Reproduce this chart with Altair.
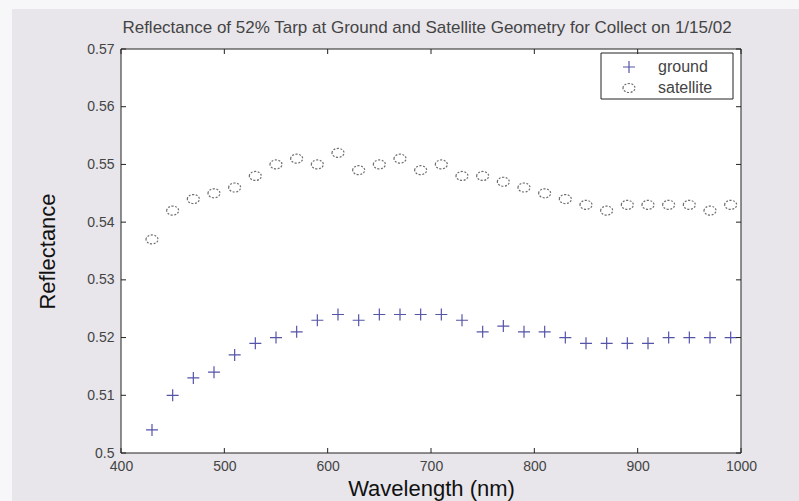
import altair as alt
import pandas as pd

# ---- data ----
wavelength = [430, 450, 470, 490, 510, 530, 550, 570, 590, 610, 630, 650, 670, 690, 710,
              730, 750, 770, 790, 810, 830, 850, 870, 890, 910, 930, 950, 970, 990]
ground = [0.504, 0.510, 0.513, 0.514, 0.517, 0.519, 0.520, 0.521, 0.523, 0.524, 0.523, 0.524,
          0.524, 0.524, 0.524, 0.523, 0.521, 0.522, 0.521, 0.521, 0.520, 0.519, 0.519, 0.519,
          0.519, 0.520, 0.520, 0.520, 0.520]
satellite = [0.537, 0.542, 0.544, 0.545, 0.546, 0.548, 0.550, 0.551, 0.550, 0.552, 0.549, 0.550,
             0.551, 0.549, 0.550, 0.548, 0.548, 0.547, 0.546, 0.545, 0.544, 0.543, 0.542, 0.543,
             0.543, 0.543, 0.543, 0.542, 0.543]
series_names = ["ground", "satellite"]
x_ticks = [400, 500, 600, 700, 800, 900, 1000]
y_ticks = [0.50, 0.51, 0.52, 0.53, 0.54, 0.55, 0.56, 0.57]
title_text = "Reflectance of 52% Tarp at Ground and Satellite Geometry for Collect on 1/15/02"

df = pd.DataFrame({
    "wavelength": wavelength + wavelength,
    "reflectance": ground + satellite,
    "series": [series_names[0]] * len(ground) + [series_names[1]] * len(satellite),
})
xt = pd.DataFrame({"wavelength": x_ticks})
yt = pd.DataFrame({"reflectance": y_ticks})
one = pd.DataFrame({"k": [0]})

W, H = 620, 404
PL, PT, PR, PB = 121, 49, 58, 48
FONT = "Liberation Sans"
BG = "#e8e6eb"
xs = alt.Scale(domain=[400, 1000], nice=False)
ys = alt.Scale(domain=[0.5, 0.57], nice=False, zero=False)

ax_x = alt.Axis(
    title="Wavelength (nm)", values=x_ticks, format="d", ticks=False, domain=False, grid=False,
    labelPadding=6, labelFontSize=14, labelColor="#444", labelFont=FONT,
    labelFlush=False, labelOverlap=False, zindex=1,
    titleFont=FONT, titleFontSize=22, titleFontWeight="normal", titleColor="#111",
    titleY=42, titleBaseline="alphabetic")
ax_y = alt.Axis(
    title="Reflectance", values=y_ticks, format=".2~f", ticks=False, domain=False, grid=False,
    labelPadding=7, labelFontSize=14, labelColor="#444", labelFont=FONT,
    labelFlush=False, labelOverlap=False, zindex=1,
    titleFont=FONT, titleFontSize=22, titleFontWeight="normal", titleColor="#111",
    titleX=-74, titleBaseline="middle")

cross = "M-1,0L1,0M0,-1L0,1"
ellipse = "M-1,0A1,0.75,0,1,1,1,0A1,0.75,0,1,1,-1,0Z"

leg = alt.Legend(
    title=None, orient="none", legendX=480, legendY=4,
    padding=6, symbolOffset=14, labelOffset=21, labelFontSize=16, labelColor="#444",
    labelFont=FONT, symbolSize=144, symbolStrokeWidth=1.2, rowPadding=4,
)

# scanned-page look: gray sheet with a thin white margin at top and left
sheet = alt.Chart(one).mark_rect(fill=BG).encode(
    x=alt.value(-PL + 12), x2=alt.value(W + PR), y=alt.value(-PT + 9), y2=alt.value(H + PB))
# white plot area with its black frame
plot_bg = alt.Chart(one).mark_rect(fill="white", stroke="#222", strokeWidth=1).encode(
    x=alt.value(0), x2=alt.value(W), y=alt.value(0), y2=alt.value(H))

# chart title (text, placed above the frame)
title = alt.Chart(one).mark_text(
    font=FONT, fontSize=17, color="#444", baseline="alphabetic", align="center"
).encode(x=alt.value(W / 2 - 4), y=alt.value(-16), text=alt.value(title_text))

# legend frame (decoration behind the legend entries)
legend_box = alt.Chart(one).mark_rect(fill="white", stroke="#222", strokeWidth=1).encode(
    x=alt.value(480), x2=alt.value(612), y=alt.value(4), y2=alt.value(50))

points = alt.Chart(df).mark_point(filled=False, size=144, strokeWidth=1.2, opacity=1).encode(
    x=alt.X("wavelength:Q", scale=xs, axis=ax_x),
    y=alt.Y("reflectance:Q", scale=ys, axis=ax_y),
    color=alt.Color("series:N", scale=alt.Scale(domain=series_names, range=["#5454a8", "#6e6e6e"]), legend=leg),
    shape=alt.Shape("series:N", scale=alt.Scale(domain=series_names, range=[cross, ellipse]), legend=leg),
    strokeDash=alt.StrokeDash("series:N", scale=alt.Scale(domain=series_names, range=[[1, 0], [2, 1.5]]), legend=leg),
)

tick_style = dict(color="#222", strokeWidth=1)
bottom = alt.Chart(xt).mark_rule(**tick_style).encode(
    x=alt.X("wavelength:Q", scale=xs, axis=ax_x), y=alt.value(H), y2=alt.value(H - 5))
top = alt.Chart(xt).mark_rule(**tick_style).encode(
    x=alt.X("wavelength:Q", scale=xs, axis=ax_x), y=alt.value(0), y2=alt.value(5))
left = alt.Chart(yt).mark_rule(**tick_style).encode(
    y=alt.Y("reflectance:Q", scale=ys, axis=ax_y), x=alt.value(0), x2=alt.value(5))
right = alt.Chart(yt).mark_rule(**tick_style).encode(
    y=alt.Y("reflectance:Q", scale=ys, axis=ax_y), x=alt.value(W), x2=alt.value(W - 5))

chart = alt.layer(sheet, plot_bg, title, legend_box, points, bottom, top, left, right).properties(
    width=W, height=H,
    padding={"left": PL, "top": PT, "right": PR, "bottom": PB},
    autosize=alt.AutoSizeParams(type="none"),
).configure(background="#f7f7f9").configure_view(stroke=None, fill=None)

chart.save("out.html", embed_options={"renderer": "svg", "actions": False})
